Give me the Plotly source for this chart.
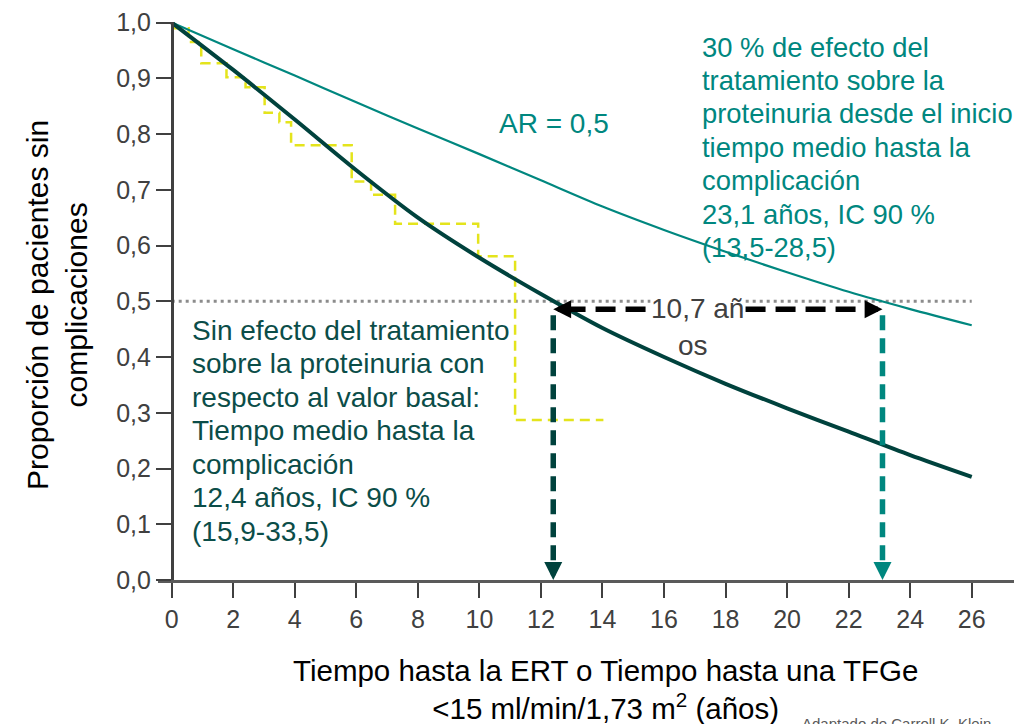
import plotly.graph_objects as go

# ── data ────────────────────────────────────────────────────────
years = [0, 2, 4, 6, 8, 10, 12, 14, 16, 18, 20, 22, 24, 26]
no_effect = [1.0, 0.915, 0.826, 0.735, 0.65, 0.578, 0.513, 0.452, 0.400, 0.352, 0.308, 0.266, 0.224, 0.185]
effect_30 = [1.0, 0.952, 0.905, 0.857, 0.81, 0.764, 0.717, 0.67, 0.628, 0.589, 0.552, 0.517, 0.486, 0.457]

km_x = [0, 0.55, 0.96, 1.78, 2.4, 3.02, 3.5, 3.88, 5.85, 6.48, 7.26, 9.96, 11.16, 14.03]
km_y = [0.99, 0.965, 0.927, 0.902, 0.884, 0.838, 0.821, 0.78, 0.715, 0.691, 0.639, 0.581, 0.287, 0.287]

medians = [12.4, 23.1]
half = 0.5
x_ticks = list(range(0, 27, 2))
y_ticks = [i / 10 for i in range(11)]

left_lines = ['Sin efecto del tratamiento', 'sobre la proteinuria con',
              'respecto al valor basal:', 'Tiempo medio hasta la',
              'complicación', '12,4 años, IC 90 %', '(15,9-33,5)']
right_lines = ['30 % de efecto del', 'tratamiento sobre la',
               'proteinuria desde el inicio', 'tiempo medio hasta la',
               'complicación', '23,1 años, IC 90 %', '(13,5-28,5)']

DARK = '#00423D'
DARK_TXT = '#0B4D48'
TEAL = '#00877F'
YELLOW = '#E4E41C'
GREY = '#404040'
FONT = 'Arial, Liberation Sans, sans-serif'

# page body has an 8px margin, so the figure is drawn 8px in from the window corner
OFF = 8
W, H = 1022 - OFF, 724 - OFF
PL, PR, PT, PB = 158, 1015, 22, 580          # plot area in window pixels
ML, MR, MT, MB = PL - OFF, W - (PR - OFF), PT - OFF, H - (PB - OFF)
PW, PH = PR - PL, PB - PT
PX_PER_YEAR = 30.77
x0 = -(171.7 - PL) / PX_PER_YEAR
x1 = x0 + PW / PX_PER_YEAR
Y_TOP = 1.001


def px(xp):   # window pixel -> paper x
    return (xp - PL) / PW


def py(yp):   # window pixel -> paper y
    return (PB - yp) / PH


def label(xp, yp, text, size, color, xanchor='center', **kw):
    fig.add_annotation(x=px(xp), y=py(yp), xref='paper', yref='paper', text=text,
                       xanchor=xanchor, yanchor=kw.pop('yanchor', 'middle'),
                       showarrow=False, font=dict(size=size, color=color, family=FONT), **kw)


fig = go.Figure()

# 0.5 reference line
fig.add_trace(go.Scatter(x=[0, 26], y=[half, half], mode='lines',
                         line=dict(color='#8C8C8C', width=3, dash='3px,4px'),
                         hoverinfo='skip', showlegend=False))

# Kaplan-Meier steps
fig.add_trace(go.Scatter(x=km_x, y=km_y, mode='lines', line_shape='hv',
                         line=dict(color=YELLOW, width=2.5, dash='10px,6px'),
                         showlegend=False))

# curves
fig.add_trace(go.Scatter(x=years, y=effect_30, mode='lines',
                         line=dict(color=TEAL, width=2.2, shape='spline', smoothing=0.8),
                         showlegend=False))
fig.add_trace(go.Scatter(x=years, y=no_effect, mode='lines',
                         line=dict(color=DARK, width=4, shape='spline', smoothing=0.8),
                         showlegend=False))

# vertical dashed drops to median times
arrow_y = 0.4857
for m, c in zip(medians, [DARK, TEAL]):
    fig.add_trace(go.Scatter(x=[m, m], y=[0.475, 0.03], mode='lines',
                             line=dict(color=c, width=5.5, dash='15px,8px'),
                             hoverinfo='skip', showlegend=False))
    fig.add_annotation(x=m, y=0, ax=m, ay=0.035, xref='x', yref='y',
                       axref='x', ayref='y', showarrow=True, arrowhead=2,
                       arrowsize=0.72, arrowwidth=5, arrowcolor=c, standoff=0, text='')

# horizontal double arrow between medians
fig.add_trace(go.Scatter(x=[medians[0] + 0.4, medians[1] - 0.4], y=[arrow_y, arrow_y],
                         mode='lines', line=dict(color='black', width=5.5, dash='20px,10px'),
                         hoverinfo='skip', showlegend=False))
for tip, tail in [(medians[0], medians[0] + 0.6), (medians[1], medians[1] - 0.6)]:
    fig.add_annotation(x=tip, y=arrow_y, ax=tail, ay=arrow_y,
                       xref='x', yref='y', axref='x', ayref='y', showarrow=True,
                       arrowhead=2, arrowsize=0.65, arrowwidth=5.5, arrowcolor='black',
                       standoff=0, text='')

label(697, 308, '10,7 añ', 28, GREY, bgcolor='white', borderpad=0)
label(693, 345, 'os', 28, GREY)

# text blocks
label(497, 124, 'AR = 0,5', 28, TEAL, xanchor='left')
for i, t in enumerate(right_lines):
    label(700, 47 + i * 33.4, t, 27.4, TEAL, xanchor='left')
for i, t in enumerate(left_lines):
    label(190, 330 + i * 33.5, t, 28, DARK_TXT, xanchor='left')

# axis titles
label(57, 305, 'Proporción de pacientes sin<br>complicaciones', 30, 'black', textangle=-90)
label(605, 689, 'Tiempo hasta la ERT o Tiempo hasta una TFGe<br>'
                '<15 ml/min/1,73 m<sup>2</sup> (años)', 29.5, 'black')
label(800, 713, 'Adaptado de Carroll K, Klein', 15, '#595959', xanchor='left', yanchor='top')

fig.update_layout(
    width=W, height=H,
    margin=dict(l=ML, r=MR, t=MT, b=MB, autoexpand=False),
    paper_bgcolor='white', plot_bgcolor='white',
    separators=',.',
    font=dict(family=FONT, color=GREY),
    xaxis=dict(range=[x0, x1], tickvals=x_ticks, ticks='outside', ticklen=15,
               tickwidth=2, tickcolor=GREY, showline=True, linecolor='#5A5A5A',
               linewidth=2.5, showgrid=False, zeroline=False, automargin=False,
               tickfont=dict(size=25, color=GREY, family=FONT)),
    yaxis=dict(range=[0, Y_TOP], tickvals=y_ticks, tickformat='.1f', ticks='outside',
               ticklen=15, tickwidth=2, tickcolor=GREY, showline=True,
               linecolor=GREY, linewidth=2.5, showgrid=False, zeroline=False,
               anchor='free', position=-x0 / (x1 - x0), automargin=False,
               tickfont=dict(size=25, color=GREY, family=FONT)),
)

fig.write_html('out.html')
